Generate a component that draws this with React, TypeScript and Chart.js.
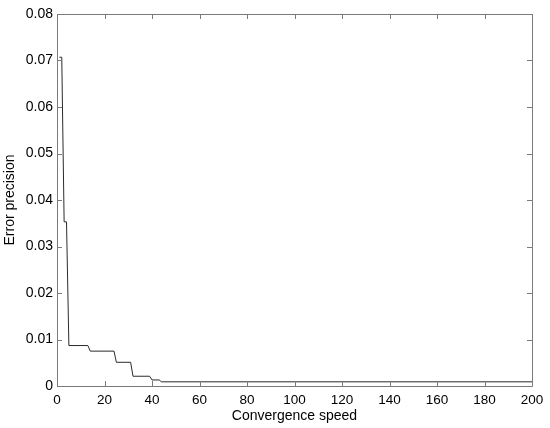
import React, { useEffect, useRef } from "react";
import { Chart, registerables } from "chart.js";

Chart.register(...registerables);

const iterations = [1, 2, 3, 4, 5, 13, 14, 24, 25, 31, 32, 39, 40, 43, 44, 200];
const errorValues = [0.0707, 0.0707, 0.0353, 0.0353, 0.0087, 0.0087, 0.0075, 0.0075, 0.0051, 0.0051, 0.0021, 0.0021, 0.0013, 0.0013, 0.0009, 0.0009];
const xTicks = [0, 20, 40, 60, 80, 100, 120, 140, 160, 180, 200];
const yTicks = [0, 0.01, 0.02, 0.03, 0.04, 0.05, 0.06, 0.07, 0.08];

const FONT = "'Liberation Sans', Arial, sans-serif";

const boxPlugin = {
  id: "boxTicks",
  afterDatasetsDraw(chart: any) {
    const { ctx, chartArea, scales } = chart;
    const { left, right, top, bottom } = chartArea;
    const L = 5;
    ctx.save();
    ctx.strokeStyle = "#7a7a7a";
    ctx.lineWidth = 1;
    ctx.beginPath();
    ctx.rect(Math.round(left) + 0.5, Math.round(top) + 0.5, Math.round(right - left), Math.round(bottom - top));
    ctx.stroke();
    ctx.beginPath();
    for (const v of xTicks) {
      const x = Math.round(scales.x.getPixelForValue(v)) + 0.5;
      ctx.moveTo(x, bottom);
      ctx.lineTo(x, bottom - L);
      ctx.moveTo(x, top);
      ctx.lineTo(x, top + L);
    }
    for (const v of yTicks) {
      const y = Math.round(scales.y.getPixelForValue(v)) + 0.5;
      ctx.moveTo(left, y);
      ctx.lineTo(left + L, y);
      ctx.moveTo(right, y);
      ctx.lineTo(right - L, y);
    }
    ctx.stroke();
    ctx.restore();
  },
};

export default function App() {
  const ref = useRef<HTMLCanvasElement | null>(null);
  useEffect(() => {
    document.body.style.margin = "0";
    const chart = new Chart(ref.current!, {
      type: "line",
      data: {
        datasets: [
          {
            data: iterations.map((x, i) => ({ x, y: errorValues[i] })),
            borderColor: "#2a2a2a",
            borderWidth: 1,
            pointRadius: 0,
            fill: false,
            tension: 0,
          },
        ],
      },
      options: {
        animation: false,
        responsive: false,
        layout: { padding: { top: 14, right: 18, left: 0, bottom: 0 } },
        plugins: { legend: { display: false }, tooltip: { enabled: false } },
        scales: {
          x: {
            type: "linear",
            min: 0,
            max: 200,
            afterBuildTicks: (s: any) => {
              s.ticks = xTicks.map((v) => ({ value: v }));
            },
            afterFit: (s: any) => {
              s.height = 42;
            },
            grid: { display: false, drawTicks: false },
            border: { display: false },
            ticks: {
              color: "#000",
              padding: 6,
              maxRotation: 0,
              font: { family: FONT, size: 13.5 },
            },
            title: {
              display: true,
              text: "Convergence speed",
              color: "#000",
              font: { family: FONT, size: 14 },
              padding: { top: 0, bottom: 3 },
            },
          },
          y: {
            type: "linear",
            min: 0,
            max: 0.08,
            afterBuildTicks: (s: any) => {
              s.ticks = yTicks.map((v) => ({ value: v }));
            },
            afterFit: (s: any) => {
              s.width = 57;
            },
            grid: { display: false, drawTicks: false },
            border: { display: false },
            ticks: {
              color: "#000",
              padding: 4,
              font: { family: FONT, size: 14 },
              callback: (v: any) => (v === 0 ? "0" : Number(v).toFixed(2)),
            },
            title: {
              display: true,
              text: "Error precision",
              color: "#000",
              font: { family: FONT, size: 14 },
              padding: { top: 2, bottom: 0 },
            },
          },
        },
      },
      plugins: [boxPlugin],
    });
    return () => chart.destroy();
  }, []);
  return (
    <div style={{ position: "absolute", left: 0, top: 0, width: 550, height: 428, background: "#fff" }}>
      <canvas ref={ref} width={550} height={428} style={{ width: 550, height: 428 }} />
    </div>
  );
}
